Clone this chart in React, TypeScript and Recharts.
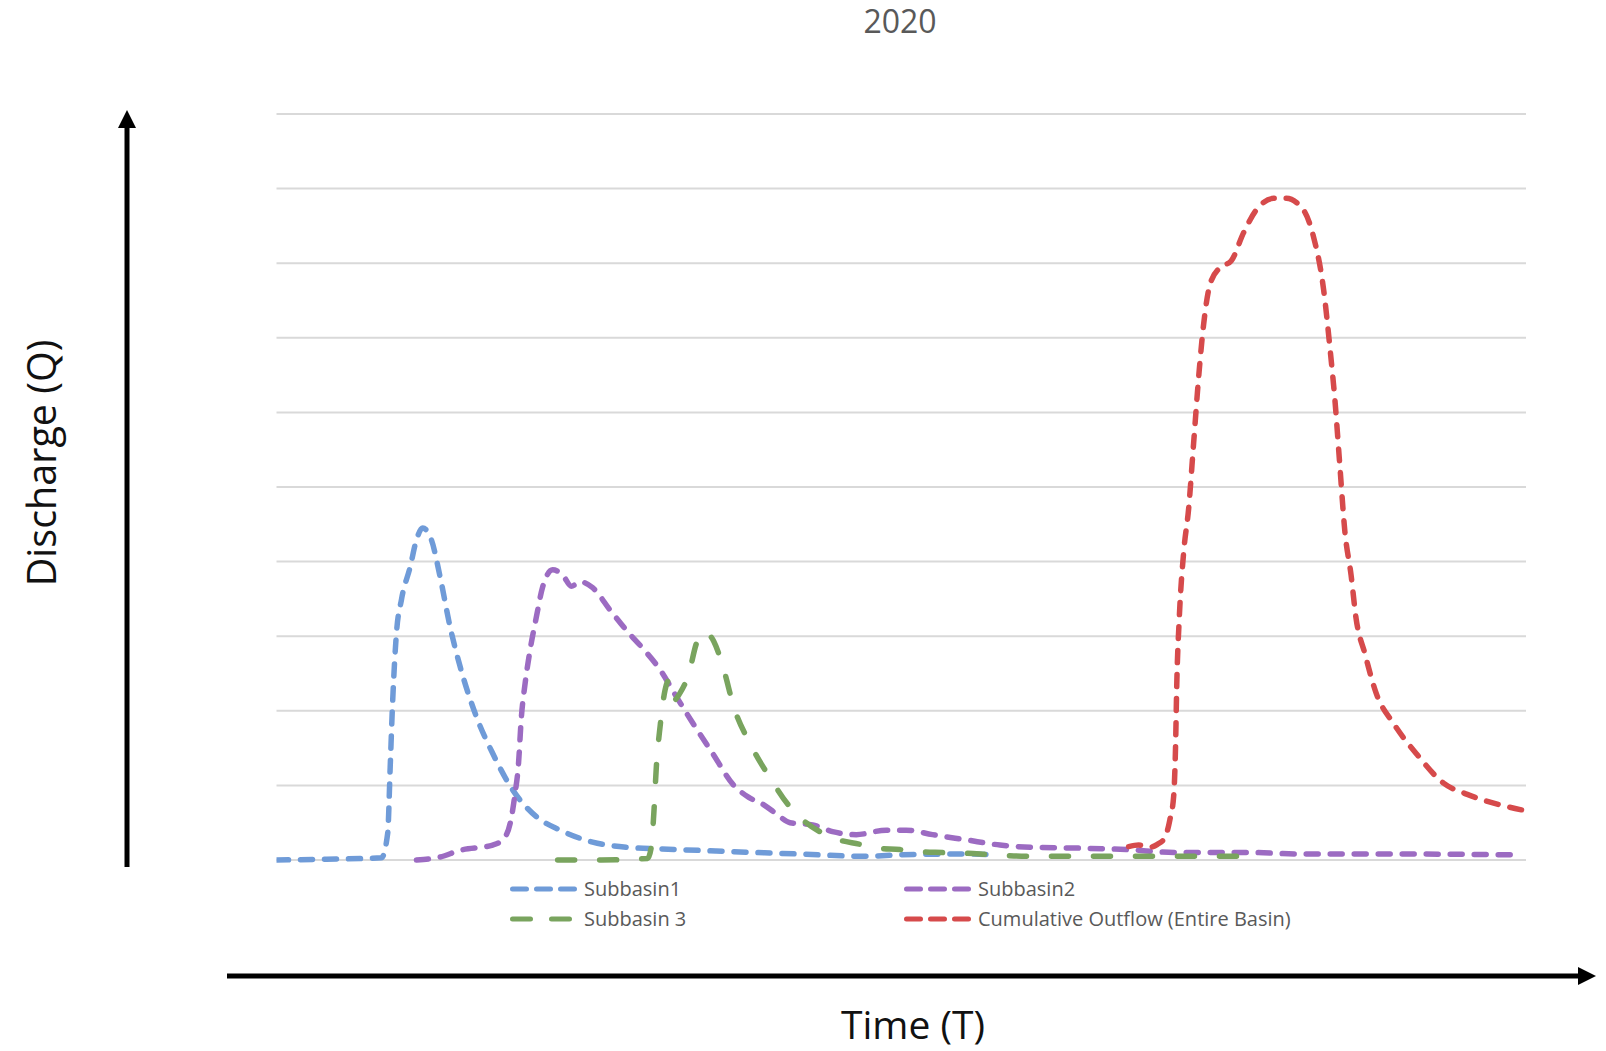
import React from 'react';
import { LineChart, Line, XAxis, YAxis, CartesianGrid } from 'recharts';

// time positions (category index scaled 0-100) and discharge readings per series
const subbasin1T = [0, 4, 8.4, 8.9, 9.1, 9.3, 9.6, 10.0, 10.7, 11.2, 11.7, 12.4, 13.1, 13.9, 14.7, 16.0, 17.3, 18.9, 20.8, 22.7, 25.3, 28.1, 30.7, 35.2, 41.9, 47.2, 50, 55.2, 57.5];
const subbasin1Q = [0, 0.01, 0.03, 0.36, 1.25, 2.14, 3.04, 3.49, 3.93, 4.29, 4.45, 4.29, 3.79, 3.12, 2.59, 1.92, 1.43, 0.94, 0.58, 0.4, 0.24, 0.17, 0.15, 0.12, 0.08, 0.05, 0.07, 0.08, 0.07];

const subbasin2T = [11.2, 13.1, 14.7, 17.3, 18.1, 18.7, 19.1, 19.35, 19.6, 19.9, 20.3, 20.8, 21.3, 22.1, 22.9, 23.6, 24.3, 25.3, 26.7, 28.0, 29.3, 30.7, 32.0, 33.3, 34.9, 36.6, 37.8, 39.0, 40.0, 41.1, 42.9, 44.5, 46.4, 48.8, 50.4, 52.5, 55.2, 57.9, 60.5, 64, 68, 72, 78, 82, 90, 99];
const subbasin2Q = [0, 0.04, 0.13, 0.2, 0.27, 0.49, 0.9, 1.25, 1.92, 2.37, 2.82, 3.26, 3.66, 3.89, 3.82, 3.67, 3.73, 3.65, 3.35, 3.08, 2.84, 2.55, 2.19, 1.84, 1.43, 1.0, 0.84, 0.74, 0.62, 0.5, 0.47, 0.38, 0.34, 0.4, 0.4, 0.34, 0.27, 0.2, 0.17, 0.16, 0.14, 0.1, 0.1, 0.08, 0.08, 0.07];

const subbasin3T = [22.5, 26, 29.7, 30.0, 30.2, 30.4, 30.7, 31.1, 31.4, 31.8, 32.3, 33.0, 33.6, 34.2, 35.0, 35.8, 36.6, 37.9, 39.5, 41.1, 42.1, 43.7, 44.8, 46.7, 48.0, 49.9, 51.5, 53.3, 55.2, 57.3, 60.5, 70, 78.3];
const subbasin3Q = [0, 0, 0.02, 0.18, 0.63, 1.25, 1.79, 2.28, 2.41, 2.14, 2.24, 2.5, 2.9, 3.06, 2.93, 2.55, 2.05, 1.56, 1.1, 0.71, 0.54, 0.36, 0.28, 0.21, 0.16, 0.14, 0.11, 0.1, 0.09, 0.07, 0.05, 0.05, 0.05];

const outflowT = [68.2, 69.0, 69.8, 70.5, 71.1, 71.5, 71.8, 71.95, 72.05, 72.25, 72.6, 73.0, 73.4, 73.8, 74.2, 74.7, 75.5, 76.4, 77.4, 78.4, 79.8, 80.8, 82.2, 83.0, 83.8, 84.3, 84.7, 85.1, 85.5, 86.0, 86.4, 87.1, 88.0, 89.4, 91.3, 93.4, 95.3, 97.9, 100];
const outflowQ = [0.18, 0.2, 0.17, 0.21, 0.3, 0.54, 0.85, 1.5, 2.35, 3.24, 4.12, 4.71, 5.59, 6.47, 7.18, 7.71, 7.94, 8.03, 8.41, 8.71, 8.87, 8.87, 8.71, 8.35, 7.65, 6.88, 6.18, 5.29, 4.41, 3.82, 3.24, 2.77, 2.24, 1.83, 1.41, 1.03, 0.88, 0.74, 0.66];

const yTicks = [0, 1, 2, 3, 4, 5, 6, 7, 8, 9, 10];

const zip = (ts: number[], qs: number[]) => ts.map((t, i) => ({ t, q: qs[i] }));

const FONT = '"Open Sans", "Noto Sans", sans-serif';

const series = [
  { name: 'Subbasin1', data: zip(subbasin1T, subbasin1Q), color: '#6f9bd8', dash: '12 12', legendDash: '14 10' },
  { name: 'Subbasin2', data: zip(subbasin2T, subbasin2Q), color: '#9c6bc2', dash: '12 12', legendDash: '14 10' },
  { name: 'Subbasin 3', data: zip(subbasin3T, subbasin3Q), color: '#79a45e', dash: '17 25', legendDash: '18 21' },
  { name: 'Cumulative Outflow (Entire Basin)', data: zip(outflowT, outflowQ), color: '#d64a4b', dash: '12 12', legendDash: '14 10' },
];

const legendPos = [
  { left: 510, top: 889 },
  { left: 904, top: 889 },
  { left: 510, top: 918.5 },
  { left: 904, top: 918.5 },
];

const App: React.FC = () => {
  return (
    <div style={{ position: 'absolute', left: 0, top: 0, width: 1606, height: 1051, background: '#fff', fontFamily: FONT, overflow: 'hidden' }}>
      <LineChart
        width={1606}
        height={1051}
        margin={{ top: 114, right: 80, bottom: 191, left: 276.5 }}
      >
        <CartesianGrid vertical={false} stroke="#d9d9d9" strokeWidth={2} />
        <XAxis type="number" dataKey="t" domain={[0, 100]} hide allowDataOverflow />
        <YAxis type="number" domain={[0, 10]} ticks={yTicks} hide />
        {series.map((s) => (
          <Line
            key={s.name}
            data={s.data}
            dataKey="q"
            name={s.name}
            type="monotone"
            stroke={s.color}
            strokeWidth={5.5}
            strokeDasharray={s.dash}
            strokeLinecap="round"
            dot={false}
            activeDot={false}
            isAnimationActive={false}
          />
        ))}
      </LineChart>

      {/* legend */}
      {series.map((s, i) => (
        <div
          key={s.name}
          style={{
            position: 'absolute',
            left: legendPos[i].left,
            top: legendPos[i].top - 14,
            height: 28,
            display: 'flex',
            alignItems: 'center',
            whiteSpace: 'nowrap',
          }}
        >
          <svg width={68} height={28} style={{ display: 'block' }}>
            <line
              x1={2.5}
              x2={68}
              y1={14}
              y2={14}
              stroke={s.color}
              strokeWidth={5}
              strokeDasharray={s.legendDash}
              strokeLinecap="round"
            />
          </svg>
          <span style={{ marginLeft: 6, fontSize: 20, color: '#595959', lineHeight: '28px' }}>{s.name}</span>
        </div>
      ))}

      {/* title, axis arrows and axis titles */}
      <svg width={1606} height={1051} style={{ position: 'absolute', left: 0, top: 0, pointerEvents: 'none' }}>
        <text x={900} y={20} textAnchor="middle" dominantBaseline="central" fontSize={32} fill="#595959" fontFamily={FONT}>
          2020
        </text>
        <line x1={127} y1={867} x2={127} y2={126} stroke="#000" strokeWidth={5} />
        <polygon points="127,110 118,128 136,128" fill="#000" />
        <line x1={227} y1={976} x2={1580} y2={976} stroke="#000" strokeWidth={5} />
        <polygon points="1596,976 1578,967 1578,985" fill="#000" />
        <text
          x={41}
          y={463}
          transform="rotate(-90 41 463)"
          textAnchor="middle"
          dominantBaseline="central"
          fontSize={39.5}
          fill="#111"
          fontFamily={FONT}
        >
          Discharge (Q)
        </text>
        <text x={913} y={1023} textAnchor="middle" dominantBaseline="central" fontSize={39} fill="#111" fontFamily={FONT}>
          Time (T)
        </text>
      </svg>
    </div>
  );
};

export default App;
